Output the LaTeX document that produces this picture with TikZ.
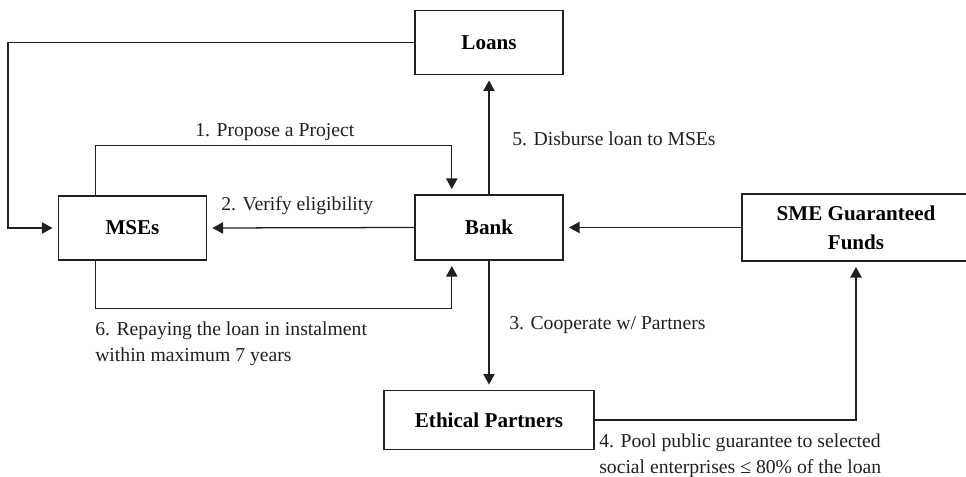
\documentclass[tikz,border=0pt]{standalone}
\usepackage{fontspec}
\setmainfont{Liberation Serif}
\usetikzlibrary{arrows.meta, positioning}
\usepackage{xcolor}
\definecolor{tDark}{RGB}{35, 31, 32}

\begin{document}
\begin{tikzpicture}[
    font=\fontsize{14}{18.5}\selectfont,
    >={Triangle[length=7.5pt, width=8pt]},
    box/.style={
        draw=tDark,
        line width=1.1pt,
        minimum width=#1,
        minimum height=1.6cm,
        inner sep=0pt,
        align=center,
        font=\fontsize{15}{20.5}\selectfont\bfseries
    },
    box/.default=3.7cm,
    arrow/.style={->, line width=0.9pt, color=tDark, shorten >=0.13cm},
    lbl/.style={inner sep=0pt, text=tDark, align=left}
]

\useasboundingbox (0,0) rectangle (24.15,-11.925);

% Actors
\node[box] (mses) at (3.3125,-5.7) {MSEs};
\node[box, minimum height=1.625cm] (bank) at (12.225,-5.6875) {Bank};
\node[box, above=2.975cm of bank] (loans) {Loans};
\node[box=5.25cm, minimum height=1.475cm, below=3.225cm of bank] (ethical) {Ethical Partners};
\node[box=5.7cm, minimum height=1.675cm] (sme) at (21.4,-5.6875) {SME Guaranteed\\Funds};

% Flows
\coordinate (edge) at (0.2,0);
\draw[arrow] (loans.west) -| (edge |- mses.west) -- (mses.west);
\draw[arrow] ([xshift=-0.93cm]mses.north) -- ++(0,1.25) -| ([xshift=-0.93cm]bank.north);
\draw[arrow] (bank.west) -- (mses.east);
\draw[arrow] ([xshift=-0.93cm]mses.south) -- ++(0,-1.2) -| ([xshift=-0.93cm]bank.south);
\draw[arrow] (bank.north) -- (loans.south);
\draw[arrow] (sme.west) -- (bank.east);
\draw[arrow] (bank.south) -- (ethical.north);
\draw[arrow] (ethical.east) -| (sme.south);

% Step labels
\node[lbl, anchor=base west] (propose) at (4.875,-3.425) {1. Propose a Project};
\node[lbl, anchor=base west] (verify) at (5.525,-5.25) {2. Verify eligibility};
\node[lbl, anchor=base west] (coop) at (12.725,-8.225) {3. Cooperate w/ Partners};
\node[lbl, anchor=north west] (pool) at (14.975,-10.85) {4. Pool public guarantee to selected\\social enterprises ≤ 80\% of the loan};
\node[lbl, anchor=base west] (disburse) at (12.8,-3.65) {5. Disburse loan to MSEs};
\node[lbl, anchor=north west] (repay) at (2.375,-8.04) {6. Repaying the loan in instalment\\within maximum 7 years};

\end{tikzpicture}
\end{document}
